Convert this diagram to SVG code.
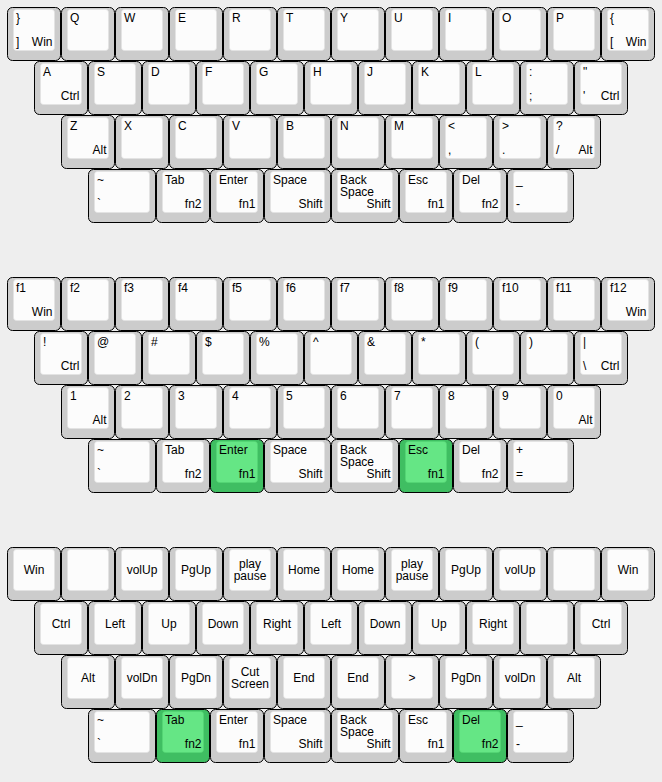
<svg xmlns="http://www.w3.org/2000/svg" xmlns:xlink="http://www.w3.org/1999/xlink" width="662" height="782" viewBox="0 0 662 782">
<style>
.bg{fill:#eeeeee}
.o{fill:#cccccc;stroke:#000;stroke-width:1}
.i{fill:#fcfcfc;stroke:#e2e2e2;stroke-width:0.6}
.og{fill:#3fbe62;stroke:#000;stroke-width:1}
.ig{fill:#65e685;stroke:#56d674;stroke-width:0.6}
text{font-family:"Liberation Sans",Arial,sans-serif;font-size:12px;fill:#000}
.r{text-anchor:end}
.m{text-anchor:middle}
</style>
<defs>
<g id="c54"><rect class="o" x="0.5" y="0.5" width="53" height="53" rx="5"/><rect class="i" x="6.5" y="2.5" width="41" height="41" rx="3"/></g>
<g id="c54g"><rect class="og" x="0.5" y="0.5" width="53" height="53" rx="5"/><rect class="ig" x="6.5" y="2.5" width="41" height="41" rx="3"/></g>
<g id="c68"><rect class="o" x="0.5" y="0.5" width="67" height="53" rx="5"/><rect class="i" x="6.5" y="2.5" width="55" height="41" rx="3"/></g>
<g id="c67"><rect class="o" x="0.5" y="0.5" width="66" height="53" rx="5"/><rect class="i" x="6.5" y="2.5" width="54" height="41" rx="3"/></g>
</defs>
<rect class="bg" x="0" y="0" width="662" height="782"/>

<!-- Block 1 -->
<g id="b1r1k1" transform="translate(7,7)"><use href="#c54"/><text x="9" y="15">}</text><text x="9" y="38.5">]</text><text class="r" x="45.5" y="38.5">Win</text></g>
<g id="b1r1k2" transform="translate(61,7)"><use href="#c54"/><text x="9" y="15">Q</text></g>
<g id="b1r1k3" transform="translate(115,7)"><use href="#c54"/><text x="9" y="15">W</text></g>
<g id="b1r1k4" transform="translate(169,7)"><use href="#c54"/><text x="9" y="15">E</text></g>
<g id="b1r1k5" transform="translate(223,7)"><use href="#c54"/><text x="9" y="15">R</text></g>
<g id="b1r1k6" transform="translate(277,7)"><use href="#c54"/><text x="9" y="15">T</text></g>
<g id="b1r1k7" transform="translate(331,7)"><use href="#c54"/><text x="9" y="15">Y</text></g>
<g id="b1r1k8" transform="translate(385,7)"><use href="#c54"/><text x="9" y="15">U</text></g>
<g id="b1r1k9" transform="translate(439,7)"><use href="#c54"/><text x="9" y="15">I</text></g>
<g id="b1r1k10" transform="translate(493,7)"><use href="#c54"/><text x="9" y="15">O</text></g>
<g id="b1r1k11" transform="translate(547,7)"><use href="#c54"/><text x="9" y="15">P</text></g>
<g id="b1r1k12" transform="translate(601,7)"><use href="#c54"/><text x="9" y="15">{</text><text x="9" y="38.5">[</text><text class="r" x="45.5" y="38.5">Win</text></g>

<g id="b1r2k1" transform="translate(34,61)"><use href="#c54"/><text x="9" y="15">A</text><text class="r" x="45.5" y="38.5">Ctrl</text></g>
<g id="b1r2k2" transform="translate(88,61)"><use href="#c54"/><text x="9" y="15">S</text></g>
<g id="b1r2k3" transform="translate(142,61)"><use href="#c54"/><text x="9" y="15">D</text></g>
<g id="b1r2k4" transform="translate(196,61)"><use href="#c54"/><text x="9" y="15">F</text></g>
<g id="b1r2k5" transform="translate(250,61)"><use href="#c54"/><text x="9" y="15">G</text></g>
<g id="b1r2k6" transform="translate(304,61)"><use href="#c54"/><text x="9" y="15">H</text></g>
<g id="b1r2k7" transform="translate(358,61)"><use href="#c54"/><text x="9" y="15">J</text></g>
<g id="b1r2k8" transform="translate(412,61)"><use href="#c54"/><text x="9" y="15">K</text></g>
<g id="b1r2k9" transform="translate(466,61)"><use href="#c54"/><text x="9" y="15">L</text></g>
<g id="b1r2k10" transform="translate(520,61)"><use href="#c54"/><text x="9" y="15">:</text><text x="9" y="38.5">;</text></g>
<g id="b1r2k11" transform="translate(574,61)"><use href="#c54"/><text x="9" y="15">"</text><text x="9" y="38.5">'</text><text class="r" x="45.5" y="38.5">Ctrl</text></g>

<g id="b1r3k1" transform="translate(61,115)"><use href="#c54"/><text x="9" y="15">Z</text><text class="r" x="45.5" y="38.5">Alt</text></g>
<g id="b1r3k2" transform="translate(115,115)"><use href="#c54"/><text x="9" y="15">X</text></g>
<g id="b1r3k3" transform="translate(169,115)"><use href="#c54"/><text x="9" y="15">C</text></g>
<g id="b1r3k4" transform="translate(223,115)"><use href="#c54"/><text x="9" y="15">V</text></g>
<g id="b1r3k5" transform="translate(277,115)"><use href="#c54"/><text x="9" y="15">B</text></g>
<g id="b1r3k6" transform="translate(331,115)"><use href="#c54"/><text x="9" y="15">N</text></g>
<g id="b1r3k7" transform="translate(385,115)"><use href="#c54"/><text x="9" y="15">M</text></g>
<g id="b1r3k8" transform="translate(439,115)"><use href="#c54"/><text x="9" y="15">&lt;</text><text x="9" y="38.5">,</text></g>
<g id="b1r3k9" transform="translate(493,115)"><use href="#c54"/><text x="9" y="15">&gt;</text><text x="9" y="38.5">.</text></g>
<g id="b1r3k10" transform="translate(547,115)"><use href="#c54"/><text x="9" y="15">?</text><text x="9" y="38.5">/</text><text class="r" x="45.5" y="38.5">Alt</text></g>

<g id="b1r4k1" transform="translate(88,169)"><use href="#c68"/><text x="9" y="15">~</text><text x="9" y="38.5">`</text></g>
<g id="b1r4k2" transform="translate(156,169)"><use href="#c54"/><text x="9" y="15">Tab</text><text class="r" x="45.5" y="38.5">fn2</text></g>
<g id="b1r4k3" transform="translate(210,169)"><use href="#c54"/><text x="9" y="15">Enter</text><text class="r" x="45.5" y="38.5">fn1</text></g>
<g id="b1r4k4" transform="translate(264,169)"><use href="#c67"/><text x="9" y="15">Space</text><text class="r" x="58.5" y="38.5">Shift</text></g>
<g id="b1r4k5" transform="translate(331,169)"><use href="#c68"/><text x="9" y="15">Back</text><text x="9" y="27">Space</text><text class="r" x="59.5" y="38.5">Shift</text></g>
<g id="b1r4k6" transform="translate(399,169)"><use href="#c54"/><text x="9" y="15">Esc</text><text class="r" x="45.5" y="38.5">fn1</text></g>
<g id="b1r4k7" transform="translate(453,169)"><use href="#c54"/><text x="9" y="15">Del</text><text class="r" x="45.5" y="38.5">fn2</text></g>
<g id="b1r4k8" transform="translate(507,169)"><use href="#c67"/><text x="9" y="15">_</text><text x="9" y="38.5">-</text></g>

<!-- Block 2 -->
<g id="b2r1k1" transform="translate(7,277)"><use href="#c54"/><text x="9" y="15">f1</text><text class="r" x="45.5" y="38.5">Win</text></g>
<g id="b2r1k2" transform="translate(61,277)"><use href="#c54"/><text x="9" y="15">f2</text></g>
<g id="b2r1k3" transform="translate(115,277)"><use href="#c54"/><text x="9" y="15">f3</text></g>
<g id="b2r1k4" transform="translate(169,277)"><use href="#c54"/><text x="9" y="15">f4</text></g>
<g id="b2r1k5" transform="translate(223,277)"><use href="#c54"/><text x="9" y="15">f5</text></g>
<g id="b2r1k6" transform="translate(277,277)"><use href="#c54"/><text x="9" y="15">f6</text></g>
<g id="b2r1k7" transform="translate(331,277)"><use href="#c54"/><text x="9" y="15">f7</text></g>
<g id="b2r1k8" transform="translate(385,277)"><use href="#c54"/><text x="9" y="15">f8</text></g>
<g id="b2r1k9" transform="translate(439,277)"><use href="#c54"/><text x="9" y="15">f9</text></g>
<g id="b2r1k10" transform="translate(493,277)"><use href="#c54"/><text x="9" y="15">f10</text></g>
<g id="b2r1k11" transform="translate(547,277)"><use href="#c54"/><text x="9" y="15">f11</text></g>
<g id="b2r1k12" transform="translate(601,277)"><use href="#c54"/><text x="9" y="15">f12</text><text class="r" x="45.5" y="38.5">Win</text></g>

<g id="b2r2k1" transform="translate(34,331)"><use href="#c54"/><text x="9" y="15">!</text><text class="r" x="45.5" y="38.5">Ctrl</text></g>
<g id="b2r2k2" transform="translate(88,331)"><use href="#c54"/><text x="9" y="15">@</text></g>
<g id="b2r2k3" transform="translate(142,331)"><use href="#c54"/><text x="9" y="15">#</text></g>
<g id="b2r2k4" transform="translate(196,331)"><use href="#c54"/><text x="9" y="15">$</text></g>
<g id="b2r2k5" transform="translate(250,331)"><use href="#c54"/><text x="9" y="15">%</text></g>
<g id="b2r2k6" transform="translate(304,331)"><use href="#c54"/><text x="9" y="15">^</text></g>
<g id="b2r2k7" transform="translate(358,331)"><use href="#c54"/><text x="9" y="15">&amp;</text></g>
<g id="b2r2k8" transform="translate(412,331)"><use href="#c54"/><text x="9" y="15">*</text></g>
<g id="b2r2k9" transform="translate(466,331)"><use href="#c54"/><text x="9" y="15">(</text></g>
<g id="b2r2k10" transform="translate(520,331)"><use href="#c54"/><text x="9" y="15">)</text></g>
<g id="b2r2k11" transform="translate(574,331)"><use href="#c54"/><text x="9" y="15">|</text><text x="9" y="38.5">\</text><text class="r" x="45.5" y="38.5">Ctrl</text></g>

<g id="b2r3k1" transform="translate(61,385)"><use href="#c54"/><text x="9" y="15">1</text><text class="r" x="45.5" y="38.5">Alt</text></g>
<g id="b2r3k2" transform="translate(115,385)"><use href="#c54"/><text x="9" y="15">2</text></g>
<g id="b2r3k3" transform="translate(169,385)"><use href="#c54"/><text x="9" y="15">3</text></g>
<g id="b2r3k4" transform="translate(223,385)"><use href="#c54"/><text x="9" y="15">4</text></g>
<g id="b2r3k5" transform="translate(277,385)"><use href="#c54"/><text x="9" y="15">5</text></g>
<g id="b2r3k6" transform="translate(331,385)"><use href="#c54"/><text x="9" y="15">6</text></g>
<g id="b2r3k7" transform="translate(385,385)"><use href="#c54"/><text x="9" y="15">7</text></g>
<g id="b2r3k8" transform="translate(439,385)"><use href="#c54"/><text x="9" y="15">8</text></g>
<g id="b2r3k9" transform="translate(493,385)"><use href="#c54"/><text x="9" y="15">9</text></g>
<g id="b2r3k10" transform="translate(547,385)"><use href="#c54"/><text x="9" y="15">0</text><text class="r" x="45.5" y="38.5">Alt</text></g>

<g id="b2r4k1" transform="translate(88,439)"><use href="#c68"/><text x="9" y="15">~</text><text x="9" y="38.5">`</text></g>
<g id="b2r4k2" transform="translate(156,439)"><use href="#c54"/><text x="9" y="15">Tab</text><text class="r" x="45.5" y="38.5">fn2</text></g>
<g id="b2r4k3" transform="translate(210,439)"><use href="#c54g"/><text x="9" y="15">Enter</text><text class="r" x="45.5" y="38.5">fn1</text></g>
<g id="b2r4k4" transform="translate(264,439)"><use href="#c67"/><text x="9" y="15">Space</text><text class="r" x="58.5" y="38.5">Shift</text></g>
<g id="b2r4k5" transform="translate(331,439)"><use href="#c68"/><text x="9" y="15">Back</text><text x="9" y="27">Space</text><text class="r" x="59.5" y="38.5">Shift</text></g>
<g id="b2r4k6" transform="translate(399,439)"><use href="#c54g"/><text x="9" y="15">Esc</text><text class="r" x="45.5" y="38.5">fn1</text></g>
<g id="b2r4k7" transform="translate(453,439)"><use href="#c54"/><text x="9" y="15">Del</text><text class="r" x="45.5" y="38.5">fn2</text></g>
<g id="b2r4k8" transform="translate(507,439)"><use href="#c67"/><text x="9" y="15">+</text><text x="9" y="38.5">=</text></g>

<!-- Block 3 -->
<g id="b3r1k1" transform="translate(7,547)"><use href="#c54"/><text class="m" x="27" y="27">Win</text></g>
<g id="b3r1k2" transform="translate(61,547)"><use href="#c54"/></g>
<g id="b3r1k3" transform="translate(115,547)"><use href="#c54"/><text class="m" x="27" y="27">volUp</text></g>
<g id="b3r1k4" transform="translate(169,547)"><use href="#c54"/><text class="m" x="27" y="27">PgUp</text></g>
<g id="b3r1k5" transform="translate(223,547)"><use href="#c54"/><text class="m" x="27" y="21">play</text><text class="m" x="27" y="33">pause</text></g>
<g id="b3r1k6" transform="translate(277,547)"><use href="#c54"/><text class="m" x="27" y="27">Home</text></g>
<g id="b3r1k7" transform="translate(331,547)"><use href="#c54"/><text class="m" x="27" y="27">Home</text></g>
<g id="b3r1k8" transform="translate(385,547)"><use href="#c54"/><text class="m" x="27" y="21">play</text><text class="m" x="27" y="33">pause</text></g>
<g id="b3r1k9" transform="translate(439,547)"><use href="#c54"/><text class="m" x="27" y="27">PgUp</text></g>
<g id="b3r1k10" transform="translate(493,547)"><use href="#c54"/><text class="m" x="27" y="27">volUp</text></g>
<g id="b3r1k11" transform="translate(547,547)"><use href="#c54"/></g>
<g id="b3r1k12" transform="translate(601,547)"><use href="#c54"/><text class="m" x="27" y="27">Win</text></g>

<g id="b3r2k1" transform="translate(34,601)"><use href="#c54"/><text class="m" x="27" y="27">Ctrl</text></g>
<g id="b3r2k2" transform="translate(88,601)"><use href="#c54"/><text class="m" x="27" y="27">Left</text></g>
<g id="b3r2k3" transform="translate(142,601)"><use href="#c54"/><text class="m" x="27" y="27">Up</text></g>
<g id="b3r2k4" transform="translate(196,601)"><use href="#c54"/><text class="m" x="27" y="27">Down</text></g>
<g id="b3r2k5" transform="translate(250,601)"><use href="#c54"/><text class="m" x="27" y="27">Right</text></g>
<g id="b3r2k6" transform="translate(304,601)"><use href="#c54"/><text class="m" x="27" y="27">Left</text></g>
<g id="b3r2k7" transform="translate(358,601)"><use href="#c54"/><text class="m" x="27" y="27">Down</text></g>
<g id="b3r2k8" transform="translate(412,601)"><use href="#c54"/><text class="m" x="27" y="27">Up</text></g>
<g id="b3r2k9" transform="translate(466,601)"><use href="#c54"/><text class="m" x="27" y="27">Right</text></g>
<g id="b3r2k10" transform="translate(520,601)"><use href="#c54"/></g>
<g id="b3r2k11" transform="translate(574,601)"><use href="#c54"/><text class="m" x="27" y="27">Ctrl</text></g>

<g id="b3r3k1" transform="translate(61,655)"><use href="#c54"/><text class="m" x="27" y="27">Alt</text></g>
<g id="b3r3k2" transform="translate(115,655)"><use href="#c54"/><text class="m" x="27" y="27">volDn</text></g>
<g id="b3r3k3" transform="translate(169,655)"><use href="#c54"/><text class="m" x="27" y="27">PgDn</text></g>
<g id="b3r3k4" transform="translate(223,655)"><use href="#c54"/><text class="m" x="27" y="21">Cut</text><text class="m" x="27" y="33">Screen</text></g>
<g id="b3r3k5" transform="translate(277,655)"><use href="#c54"/><text class="m" x="27" y="27">End</text></g>
<g id="b3r3k6" transform="translate(331,655)"><use href="#c54"/><text class="m" x="27" y="27">End</text></g>
<g id="b3r3k7" transform="translate(385,655)"><use href="#c54"/><text class="m" x="27" y="27">&gt;</text></g>
<g id="b3r3k8" transform="translate(439,655)"><use href="#c54"/><text class="m" x="27" y="27">PgDn</text></g>
<g id="b3r3k9" transform="translate(493,655)"><use href="#c54"/><text class="m" x="27" y="27">volDn</text></g>
<g id="b3r3k10" transform="translate(547,655)"><use href="#c54"/><text class="m" x="27" y="27">Alt</text></g>

<g id="b3r4k1" transform="translate(88,709)"><use href="#c68"/><text x="9" y="15">~</text><text x="9" y="38.5">`</text></g>
<g id="b3r4k2" transform="translate(156,709)"><use href="#c54g"/><text x="9" y="15">Tab</text><text class="r" x="45.5" y="38.5">fn2</text></g>
<g id="b3r4k3" transform="translate(210,709)"><use href="#c54"/><text x="9" y="15">Enter</text><text class="r" x="45.5" y="38.5">fn1</text></g>
<g id="b3r4k4" transform="translate(264,709)"><use href="#c67"/><text x="9" y="15">Space</text><text class="r" x="58.5" y="38.5">Shift</text></g>
<g id="b3r4k5" transform="translate(331,709)"><use href="#c68"/><text x="9" y="15">Back</text><text x="9" y="27">Space</text><text class="r" x="59.5" y="38.5">Shift</text></g>
<g id="b3r4k6" transform="translate(399,709)"><use href="#c54"/><text x="9" y="15">Esc</text><text class="r" x="45.5" y="38.5">fn1</text></g>
<g id="b3r4k7" transform="translate(453,709)"><use href="#c54g"/><text x="9" y="15">Del</text><text class="r" x="45.5" y="38.5">fn2</text></g>
<g id="b3r4k8" transform="translate(507,709)"><use href="#c67"/><text x="9" y="15">_</text><text x="9" y="38.5">-</text></g>
</svg>
